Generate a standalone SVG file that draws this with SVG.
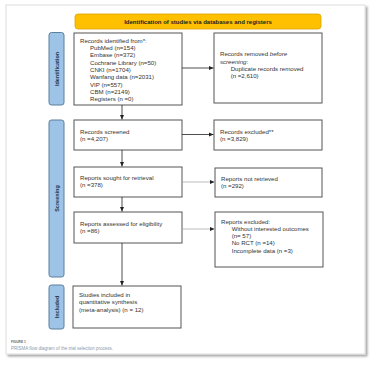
<svg xmlns="http://www.w3.org/2000/svg" width="376" height="368" viewBox="0 0 376 368">
<defs>
<marker id="ah" markerWidth="6" markerHeight="6" refX="5" refY="3" orient="auto" markerUnits="userSpaceOnUse">
<path d="M0,0.8 L5,3 L0,5.2 Z" fill="#222"/>
</marker>
<filter id="sh" x="-5%" y="-5%" width="115%" height="115%">
<feDropShadow dx="2" dy="2" stdDeviation="1.2" flood-color="#000" flood-opacity="0.35"/>
</filter>
</defs>
<style>
text{font-family:"Liberation Sans",Arial,sans-serif;fill:#333}
.t{font-size:6.1px}
.box{fill:#fff;stroke:#555;stroke-width:1}
.side{fill:#9dc3e6;stroke:#5b7f9e;stroke-width:1}
.sl{font-size:5.5px;font-weight:bold;fill:#1f3550;text-anchor:middle}
.c{stroke:#222;stroke-width:0.8;fill:none}
.cl{stroke:#aaa;stroke-width:0.8;fill:none}
</style>
<rect width="376" height="368" fill="#fff"/>
<rect x="6" y="5" width="359" height="349" fill="#fff" stroke="#ddd" stroke-width="1" filter="url(#sh)"/>

<g id="header">
<rect x="75" y="14" width="246" height="15" rx="3" fill="#ffc000" stroke="#d9a300" stroke-width="0.8"/>
<text x="198" y="24" font-size="6" font-weight="bold" text-anchor="middle" style="fill:#222">Identification of studies via databases and registers</text>
</g>

<g id="lbl-identification">
<rect class="side" x="49" y="32.5" width="15" height="72.5" rx="2.5"/>
<text class="sl" transform="translate(58.5,69) rotate(-90)">Identification</text>
</g>
<g id="lbl-screening">
<rect class="side" x="49" y="120" width="15" height="157" rx="2.5"/>
<text class="sl" transform="translate(58.5,198.5) rotate(-90)">Screening</text>
</g>
<g id="lbl-included">
<rect class="side" x="49" y="285" width="15" height="44" rx="2.5"/>
<text class="sl" transform="translate(58.5,307) rotate(-90)">Included</text>
</g>

<g id="n-identified">
<rect class="box" x="74" y="33" width="108" height="72"/>
<text class="t" x="80" y="42.7">Records identified from*:</text>
<text class="t" x="90" y="50">PubMed (n=154)</text>
<text class="t" x="90" y="57.4">Embase (n=372)</text>
<text class="t" x="90" y="64.7">Cochrane Library (n=50)</text>
<text class="t" x="90" y="72">CNKI (n=1704)</text>
<text class="t" x="90" y="79.4">Wanfang data (n=2031)</text>
<text class="t" x="90" y="86.7">VIP (n=557)</text>
<text class="t" x="90" y="94">CBM (n=2149)</text>
<text class="t" x="90" y="101.3">Registers (n =0)</text>
</g>

<g id="n-removed">
<rect class="box" x="214" y="33" width="108" height="70"/>
<text class="t" x="220" y="56">Records removed <tspan font-style="italic">before</tspan></text>
<text class="t" x="220" y="63.5"><tspan font-style="italic">screening</tspan>:</text>
<text class="t" x="230.7" y="70.8">Duplicate records removed</text>
<text class="t" x="230.7" y="78">(n =2,610)</text>
</g>

<g id="n-screened">
<rect class="box" x="74" y="120" width="108" height="30"/>
<text class="t" x="80" y="133.7">Records screened</text>
<text class="t" x="80" y="141">(n =4,207)</text>
</g>

<g id="n-excluded">
<rect class="box" x="214" y="120" width="108" height="30"/>
<text class="t" x="220" y="133.7">Records excluded**</text>
<text class="t" x="220" y="141">(n =3,829)</text>
</g>

<g id="n-sought">
<rect class="box" x="74" y="167" width="108" height="30"/>
<text class="t" x="80" y="180.3">Reports sought for retrieval</text>
<text class="t" x="80" y="187.3">(n =378)</text>
</g>

<g id="n-notretrieved">
<rect class="box" x="215" y="168" width="107" height="29"/>
<text class="t" x="221" y="181.3">Reports not retrieved</text>
<text class="t" x="221" y="188">(n =292)</text>
</g>

<g id="n-assessed">
<rect class="box" x="74" y="212" width="108" height="31"/>
<text class="t" x="80" y="226.3">Reports assessed for eligibility</text>
<text class="t" x="80" y="233">(n =86)</text>
</g>

<g id="n-repexcluded">
<rect class="box" x="215" y="212" width="108" height="55"/>
<text class="t" x="221" y="223.7">Reports excluded:</text>
<text class="t" x="231.7" y="231">Without interested outcomes</text>
<text class="t" x="231.7" y="238.3">(n= 57)</text>
<text class="t" x="231.7" y="245.3">No RCT (n =14)</text>
<text class="t" x="231.7" y="252.7">Incomplete data (n =3)</text>
</g>

<g id="n-included">
<rect class="box" x="73" y="286" width="108" height="42"/>
<text class="t" x="79" y="297">Studies included in</text>
<text class="t" x="79" y="304.3">quantitative synthesis</text>
<text class="t" x="79" y="312">(meta-analysis) (n = 12)</text>
</g>

<g id="connectors">
<line class="c" x1="182" y1="68" x2="213.5" y2="68" marker-end="url(#ah)"/>
<line class="c" x1="122" y1="105" x2="122" y2="119.5" marker-end="url(#ah)"/>
<line class="c" x1="182" y1="134.5" x2="213.5" y2="134.5" marker-end="url(#ah)"/>
<line class="c" x1="122" y1="150" x2="122" y2="166.5" marker-end="url(#ah)"/>
<line class="cl" x1="182" y1="182" x2="214.5" y2="182" marker-end="url(#ah)"/>
<line class="c" x1="122" y1="197" x2="122" y2="211.5" marker-end="url(#ah)"/>
<line class="cl" x1="182" y1="229" x2="214.5" y2="229" marker-end="url(#ah)"/>
<line class="c" x1="122" y1="243" x2="122" y2="285.5" marker-end="url(#ah)"/>
</g>

<g id="caption">
<text x="11" y="342.5" font-size="3.2" font-weight="bold" style="fill:#666">FIGURE 1</text>
<text x="11" y="350" font-size="4.5" style="fill:#8a9aaa">PRISMA flow diagram of the trial selection process.</text>
</g>
</svg>
